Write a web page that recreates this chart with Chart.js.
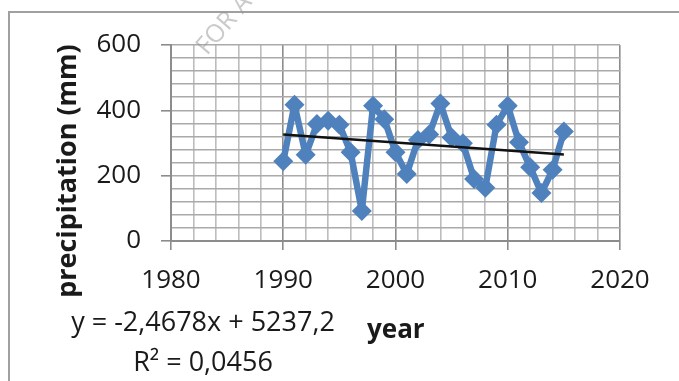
<!DOCTYPE html>
<html lang="en">
<head>
  <meta charset="UTF-8" />
  <title>Precipitation trend</title>
  <script src="https://cdn.jsdelivr.net/npm/chart.js"></script>
  <style>
    html, body {
      margin: 0;
      padding: 0;
      background: #fff;
    }
    #wrap {
      width: 679px;
      height: 381px;
      position: relative;
    }
  </style>
</head>
<body>
  <div id="wrap">
    <canvas id="precipChart" width="679" height="381"></canvas>
  </div>

  <script>
    // values
    const years = [1990, 1991, 1992, 1993, 1994, 1995, 1996, 1997, 1998, 1999, 2000, 2001, 2002,
                   2003, 2004, 2005, 2006, 2007, 2008, 2009, 2010, 2011, 2012, 2013, 2014, 2015];
    const precipitation = [244, 417, 264, 358, 368, 356, 272, 92, 414, 373, 272, 205, 309,
                           326, 421, 317, 299, 190, 163, 356, 414, 302, 226, 147, 218, 335];
    const trendYears = [1990, 2015];
    const trendValues = [326, 265];
    const xLabels = [1980, 1990, 2000, 2010, 2020];
    const yLabels = [0, 200, 400, 600];

    const equationText = 'y = -2,4678x + 5237,2';
    const r2Text = 'R² = 0,0456';

    const FONT = '"Open Sans", "DejaVu Sans", sans-serif';

    // frame, watermark and the text boxes Excel puts around the plot
    const extrasPlugin = {
      id: 'extras',
      beforeDraw(chart) {
        const c = chart.ctx;
        c.save();
        c.fillStyle = '#fff';
        c.fillRect(0, 0, chart.width, chart.height);
        c.strokeStyle = '#a0a0a0';
        c.lineWidth = 2;
        c.strokeRect(9, 12, 720, 420);
        c.restore();
      },
      afterDraw(chart) {
        const c = chart.ctx;
        c.save();
        // y axis title
        c.translate(68, 171);
        c.rotate(-Math.PI / 2);
        c.font = 'bold 27px ' + FONT;
        c.fillStyle = '#1a1a1a';
        c.textAlign = 'center';
        c.textBaseline = 'middle';
        c.fillText('precipitation (mm)', 0, 0);
        c.restore();

        c.save();
        c.fillStyle = '#1a1a1a';
        c.font = 'bold 26px ' + FONT;
        c.textAlign = 'left';
        c.textBaseline = 'alphabetic';
        c.fillText('year', 367, 338);

        c.font = '27px ' + FONT;
        c.textAlign = 'center';
        c.fillText(equationText, 203, 331);
        c.fillText(r2Text, 203, 371);
        c.restore();

        // faint watermark
        c.save();
        c.translate(207, 56);
        c.rotate(-0.86);
        c.font = '25px ' + FONT;
        c.fillStyle = 'rgba(150,150,150,0.5)';
        c.fillText('FOR A', 0, 0);
        c.restore();
      }
    };

    const ctx = document.getElementById('precipChart').getContext('2d');
    const chart = new Chart(ctx, {
      type: 'scatter',
      data: {
        datasets: [
          {
            label: 'trend',
            data: trendYears.map((x, i) => ({ x, y: trendValues[i] })),
            showLine: true,
            borderColor: '#111',
            borderWidth: 2.5,
            pointRadius: 0,
            order: 1
          },
          {
            label: 'precipitation',
            data: years.map((x, i) => ({ x, y: precipitation[i] })),
            showLine: true,
            borderColor: '#4F81BD',
            backgroundColor: '#4F81BD',
            borderWidth: 6.5,
            borderJoinStyle: 'round',
            borderCapStyle: 'round',
            pointStyle: 'rectRot',
            pointRadius: 10,
            pointBorderWidth: 0,
            order: 2
          }
        ]
      },
      options: {
        responsive: false,
        animation: false,
        layout: { padding: { left: 0, top: 45, right: 59, bottom: 80 } },
        plugins: {
          legend: { display: false },
          tooltip: { enabled: false }
        },
        scales: {
          x: {
            type: 'linear',
            min: 1980,
            max: 2020,
            afterFit(scale) { scale.height = 60; },
            ticks: {
              stepSize: 2,
              autoSkip: false,
              maxRotation: 0,
              padding: 15,
              color: '#1a1a1a',
              font: { family: FONT, size: 26 },
              callback: v => xLabels.includes(v) ? String(v) : ''
            },
            grid: {
              color: c => (c.tick && xLabels.includes(c.tick.value)) ? '#8c8c8c' : '#bdbdbd',
              lineWidth: 1.6,
              tickColor: c => (c.tick && xLabels.includes(c.tick.value)) ? '#8c8c8c' : 'rgba(0,0,0,0)',
              tickLength: 9
            },
            border: { display: true, color: '#8c8c8c', width: 2 }
          },
          y: {
            min: 0,
            max: 600,
            afterFit(scale) { scale.width = 171; },
            ticks: {
              stepSize: 40,
              autoSkip: false,
              padding: 20,
              color: '#1a1a1a',
              font: { family: FONT, size: 26 },
              callback: v => yLabels.includes(v) ? String(v) : ''
            },
            grid: {
              color: '#aaaaaa',
              lineWidth: 1.6,
              tickColor: c => (c.tick && yLabels.includes(c.tick.value)) ? '#8c8c8c' : 'rgba(0,0,0,0)',
              tickLength: 10
            },
            border: { display: true, color: '#8c8c8c', width: 2 }
          }
        }
      },
      plugins: [extrasPlugin]
    });
  </script>
</body>
</html>
